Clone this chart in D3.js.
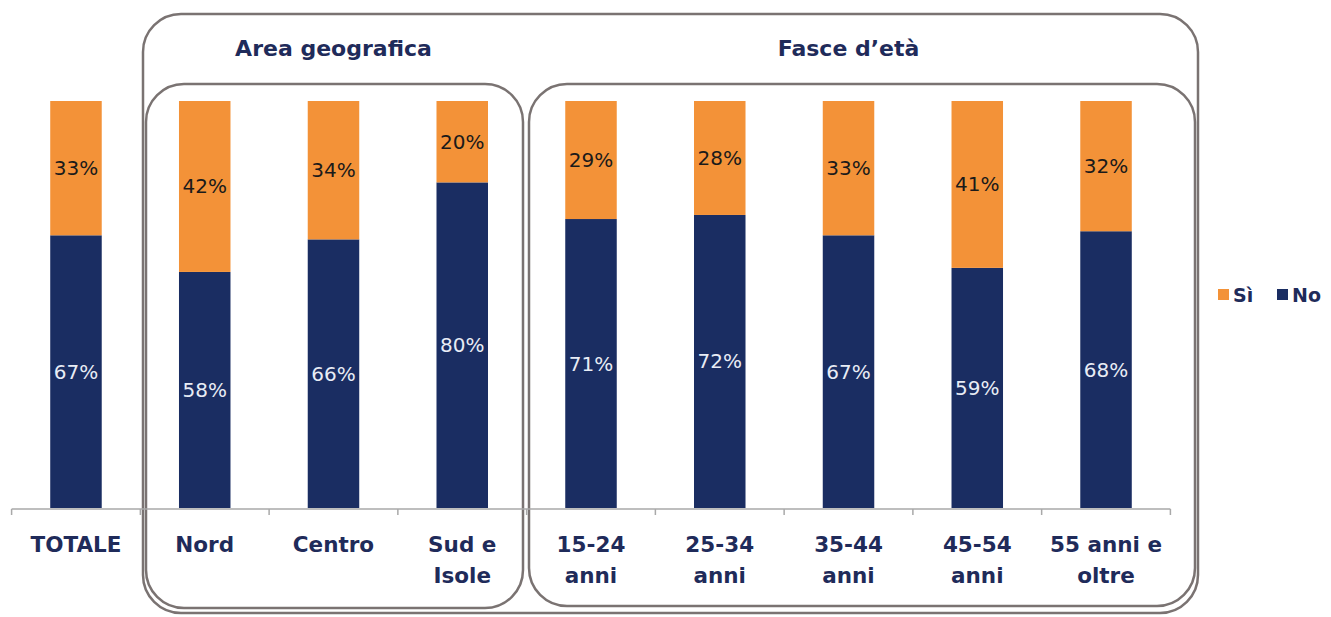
<!DOCTYPE html>
<html><head><meta charset="utf-8">
<script src="https://cdn.jsdelivr.net/npm/d3@7"></script>
<style>body{margin:0;background:#fff;}svg{display:block;}</style>
</head><body>
<svg id="chart" width="1331" height="617"></svg>
<script>
const categories = ["TOTALE","Nord","Centro","Sud e Isole","15-24 anni","25-34 anni","35-44 anni","45-54 anni","55 anni e oltre"];
const categoryLines = [["TOTALE"],["Nord"],["Centro"],["Sud e","Isole"],["15-24","anni"],["25-34","anni"],["35-44","anni"],["45-54","anni"],["55 anni e","oltre"]];
const si = [33,42,34,20,29,28,33,41,32];
const no = [67,58,66,80,71,72,67,59,68];
const seriesNames = ["Sì","No"];
const groupTitles = ["Area geografica","Fasce d’età"];

const ORANGE = "#f39238", NAVY = "#1a2d62", TXT = "#1f2b5a", BOX = "#7a7372";
const svg = d3.select("#chart");

const x = d3.scaleBand().domain(categories).range([11.6, 1170.4]).paddingInner(0.6).paddingOuter(0.3);
const y = d3.scaleLinear().domain([0,100]).range([508,101]);

const data = categories.map((c,i)=>({cat:c, si:si[i], no:no[i]}));
const stack = d3.stack().keys(["no","si"])(data);
const colors = {no:NAVY, si:ORANGE};

// boxes
const boxes = svg.append("g").attr("fill","none").attr("stroke",BOX).attr("stroke-width",2.5);
boxes.append("rect").attr("x",143).attr("y",14).attr("width",1055).attr("height",599).attr("rx",38);
boxes.append("rect").attr("x",146).attr("y",84).attr("width",377).attr("height",524).attr("rx",38);
boxes.append("rect").attr("x",529).attr("y",84).attr("width",666).attr("height",522).attr("rx",38);

// titles
const titleX = [ (x("Nord")+x("Sud e Isole")+x.bandwidth())/2, (x("15-24 anni")+x("55 anni e oltre")+x.bandwidth())/2 ];
svg.selectAll("text.gt").data(groupTitles).join("text").attr("class","gt")
  .attr("x",(d,i)=>titleX[i]).attr("y",56).attr("text-anchor","middle")
  .attr("font-family","DejaVu Sans").attr("font-weight","bold").attr("font-size",22).attr("fill",TXT)
  .text(d=>d);

// bars
stack.forEach(layer=>{
  svg.append("g").attr("fill",colors[layer.key]).selectAll("rect").data(layer).join("rect")
    .attr("x",d=>x(d.data.cat)).attr("width",x.bandwidth())
    .attr("y",d=>y(d[1])).attr("height",d=>y(d[0])-y(d[1]));
  svg.append("g").selectAll("text").data(layer).join("text")
    .attr("x",d=>x(d.data.cat)+x.bandwidth()/2).attr("y",d=>(y(d[0])+y(d[1]))/2)
    .attr("dy","0.35em").attr("text-anchor","middle")
    .attr("font-family","DejaVu Sans").attr("font-size",20)
    .attr("fill",layer.key==="no"?"#e8ecf5":"#1a1a1a")
    .text(d=>(d[1]-d[0])+"%");
});

// axis
const axisG = svg.append("g").attr("stroke","#a9a9a9").attr("stroke-width",1.5);
axisG.append("line").attr("x1",x.range()[0]).attr("x2",x.range()[1]).attr("y1",509).attr("y2",509);
const tickXs = categories.map(c=>x(c)-x.step()*x.paddingInner()/2).concat([x.range()[1]]);
axisG.selectAll("line.t").data(tickXs).join("line").attr("class","t")
  .attr("x1",d=>d).attr("x2",d=>d).attr("y1",509).attr("y2",515);

// category labels
const lab = svg.append("g").attr("font-family","DejaVu Sans").attr("font-weight","bold").attr("font-size",21.5).attr("fill",TXT).attr("text-anchor","middle");
categories.forEach((c,i)=>{
  const t = lab.append("text").attr("x",x(c)+x.bandwidth()/2).attr("y",552);
  categoryLines[i].forEach((l,j)=>t.append("tspan").attr("x",x(c)+x.bandwidth()/2).attr("dy",j?31:0).text(l));
});

// legend
const leg = svg.append("g").attr("font-family","DejaVu Sans").attr("font-weight","bold").attr("font-size",19).attr("fill",TXT);
const legX = [1218, 1277];
[ORANGE, NAVY].forEach((col,i)=>{
  leg.append("rect").attr("x",legX[i]).attr("y",289).attr("width",11).attr("height",11).attr("fill",col);
  leg.append("text").attr("x",legX[i]+15).attr("y",302).text(seriesNames[i]);
});
</script>
</body></html>
